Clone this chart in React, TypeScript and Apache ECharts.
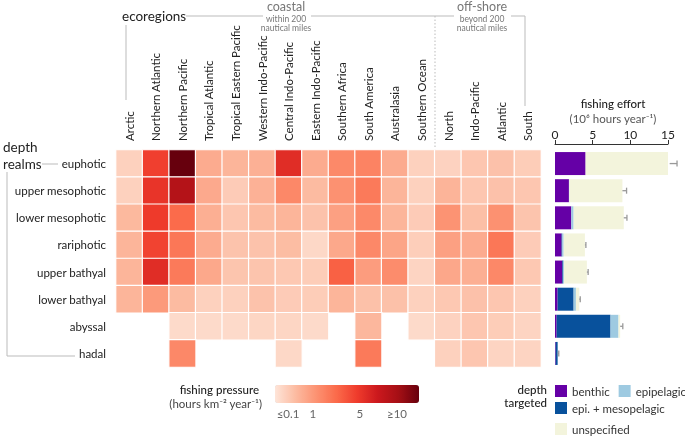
import React, { useEffect, useRef } from "react";
import * as echarts from "echarts";

const ecoregions = [
  "Arctic", "Northern Atlantic", "Northern Pacific", "Tropical Atlantic",
  "Tropical Eastern Pacific", "Western Indo-Pacific", "Central Indo-Pacific",
  "Eastern Indo-Pacific", "Southern Africa", "South America", "Australasia",
  "Southern Ocean", "North", "Indo-Pacific", "Atlantic", "South",
];
const depthRealms = [
  "euphotic", "upper mesophotic", "lower mesophotic", "rariphotic",
  "upper bathyal", "lower bathyal", "abyssal", "hadal",
];

// fishing pressure (hours km-2 year-1), null = no cell
const euphotic = [0.07, 4.5, 15, 0.57, 0.39, 0.47, 5.7, 0.57, 1.45, 1.65, 0.57, 0.07, 0.06, 0.16, 0.21, 0.1];
const upperMesophotic = [0.07, 5.2, 9.2, 0.6, 0.11, 0.45, 1.5, 0.3, 1.2, 2.0, 0.39, 0.07, 0.4, 0.16, 0.21, 0.16];
const lowerMesophotic = [0.33, 4.8, 2.6, 0.5, 0.16, 0.3, 0.39, 0.2, 0.81, 1.45, 0.39, 0.11, 1.15, 0.24, 1.2, 0.18];
const rariphotic = [0.39, 4.3, 2.1, 0.57, 0.19, 0.2, 0.27, 0.03, 0.63, 1.5, 0.7, 0.09, 0.81, 0.57, 2.1, 0.11];
const upperBathyal = [0.39, 5.7, 2.0, 0.63, 0.17, 0.18, 0.14, 0.1, 3.0, 0.9, 1.35, 0.05, 0.65, 0.5, 1.5, 0.14];
const lowerBathyal = [0.39, 0.96, 0.3, 0.07, 0.07, 0.2, 0.11, 0.1, 0.39, 0.22, 0.22, 0.07, 0.14, 0.21, 0.16, 0.07];
const abyssal = [null, null, 0.02, 0.02, 0.02, 0.04, 0.04, 0.02, null, 0.35, null, 0.02, 0.06, 0.16, 0.1, 0.05];
const hadal = [null, null, 1.5, null, null, null, 0.03, null, null, 2.0, null, null, 0.07, 0.16, 0.05, 0.05];
const pressureRows = [euphotic, upperMesophotic, lowerMesophotic, rariphotic, upperBathyal, lowerBathyal, abyssal, hadal];

const pressureTicks = ["≤0.1", "1", "5", "≥10"];
const pressureTickValues = [0.1, 1, 5, 10];
const pressureMax = 14.4;

// fishing effort (10^6 hours year-1)
const benthic = [4.06, 1.85, 2.16, 0.88, 0.97, 0.35, 0.22, 0.09];
const epiMeso = [0, 0, 0, 0.09, 0.13, 2.12, 7.15, 0.26];
const epipelagic = [0, 0.05, 0.31, 0.18, 0.09, 0.31, 1.06, 0];
const unspecified = [11.16, 7.05, 6.66, 2.82, 3.04, 0.44, 0.22, 0];
const effortUpper = [16.2, 9.5, 9.55, 4.1, 4.4, 3.35, 9.0, 0.5];

const FONT = 'Lato, "Open Sans", "Noto Sans", sans-serif';
const RAMP = ["#fee5d9", "#fcbba1", "#fc9272", "#fb6a4a", "#ef3b2c", "#cb181d", "#a50f15", "#67000d"];

function txt(text: string, x: number, y: number, o: any = {}) {
  const align = o.align || "left";
  const size = o.size || 11.5;
  return {
    type: "text", x, y, silent: true, rotation: o.rotation || 0,
    style: {
      text, fontSize: size, fill: o.color || "#222", fontFamily: FONT,
      fontWeight: o.weight || "normal", lineHeight: o.lh || Math.round(size * 1.05),
      textAlign: align, align, textVerticalAlign: "middle", verticalAlign: "middle",
    },
  };
}
function ln(x1: number, y1: number, x2: number, y2: number, dash?: number[], color = "#bbb") {
  return {
    type: "line", silent: true,
    shape: { x1, y1, x2, y2 },
    style: { stroke: color, lineWidth: 1, lineDash: dash || null },
  };
}

export default function App() {
  const ref = useRef<HTMLDivElement>(null);
  useEffect(() => {
    if (!ref.current) return;
    const chart = echarts.init(ref.current, null, { renderer: "svg" });

    const heatData: any[] = [];
    pressureRows.forEach((row, r) => {
      row.forEach((v, c) => {
        if (v !== null && v !== undefined) heatData.push([c, r, Math.sqrt(Math.min(v, pressureMax))]);
      });
    });
    const totals = depthRealms.map((_, i) => benthic[i] + epiMeso[i] + epipelagic[i] + unspecified[i]);
    const errData = depthRealms.map((_, i) => [i, totals[i], effortUpper[i]]);

    const legX0 = 275, legW = 144, legTop = 385, legH = 18;
    const sMax = Math.sqrt(pressureMax);
    const tickX = pressureTickValues.map((v) => legX0 + (Math.sqrt(v) / sMax) * legW);

    const graphic: any[] = [
      // header
      txt("ecoregions", 122, 16, { size: 13.5 }),
      ln(186, 16, 263, 16),
      ln(126, 25, 126, 100),
      txt("coastal", 286, 6.5, { size: 12.5, color: "#777", align: "center", lh: 12 }),
      txt("within 200", 286, 19, { size: 8.5, color: "#777", align: "center", lh: 9 }),
      txt("nautical miles", 286, 28, { size: 8.5, color: "#777", align: "center", lh: 9 }),
      ln(311, 16, 454, 16),
      ln(435, 16, 435, 150, [1.5, 2]),
      txt("off-shore", 482, 6.5, { size: 12.5, color: "#777", align: "center", lh: 12 }),
      txt("beyond 200", 482, 19, { size: 8.5, color: "#777", align: "center", lh: 9 }),
      txt("nautical miles", 482, 28, { size: 8.5, color: "#777", align: "center", lh: 9 }),
      ln(511, 16, 525, 16),
      ln(525, 16, 525, 106),
      // left
      txt("depth", 3, 147, { size: 13.5 }),
      txt("realms", 3, 164, { size: 13.5 }),
      ln(42, 164, 58, 164),
      ln(7, 172, 7, 356),
      ln(7, 356, 75, 356),
      // effort title
      txt("fishing effort", 613, 103, { size: 11.5, align: "center", weight: 500 }),
      txt("(10⁶ hours year⁻¹)", 613, 118, { size: 11.5, color: "#555", align: "center" }),
      // pressure legend
      txt("fishing pressure", 259, 389, { size: 11.5, align: "right", weight: 500 }),
      txt("(hours km⁻² year⁻¹)", 262, 403, { size: 11.5, color: "#444", align: "right" }),
      ...tickX.map((x) => ln(x, legTop + legH - 6, x, legTop + legH, undefined, "rgba(255,255,255,0.8)")),
      ...tickX.map((x, i) => txt(pressureTicks[i], x + (i === 0 ? 1 : i === 3 ? 2 : 0), 413, { size: 11.5, color: "#666", align: "center" })),
      // depth targeted
      txt("depth", 547, 389, { size: 11.5, align: "right", weight: 500 }),
      txt("targeted", 547, 402, { size: 11.5, align: "right", weight: 500 }),
    ];

    const legendBase = {
      orient: "horizontal", itemWidth: 12, itemHeight: 12, itemGap: 9, padding: 0,
      icon: "rect", selectedMode: false, width: 220,
      textStyle: { fontSize: 11.5, color: "#333", fontFamily: FONT },
    };

    const barBase = { type: "bar", stack: "effort", xAxisIndex: 1, yAxisIndex: 1, barWidth: 23 };

    chart.setOption({
      animation: false,
      textStyle: { fontFamily: FONT },
      grid: [
        { left: 116, top: 150, width: 425, height: 217 },
        { left: 555, top: 150, width: 113, height: 217 },
      ],
      xAxis: [
        {
          type: "category", gridIndex: 0, data: ecoregions, position: "top",
          axisLine: { show: false }, axisTick: { show: false }, splitLine: { show: false },
          axisLabel: { show: false },
        },
        {
          type: "value", gridIndex: 1, min: 0, max: 15, interval: 5, position: "top", offset: 6,
          axisLine: { show: true, lineStyle: { color: "#333" } },
          axisTick: { show: true, length: 4, lineStyle: { color: "#333" } },
          axisLabel: { fontSize: 12, color: "#222", margin: 4 },
          splitLine: { show: false },
        },
      ],
      yAxis: [
        {
          type: "category", gridIndex: 0, data: depthRealms, inverse: true,
          axisLine: { show: false }, axisTick: { show: false },
          axisLabel: { fontSize: 11.5, color: "#222", margin: 10 },
        },
        { type: "category", gridIndex: 1, data: depthRealms, inverse: true, show: false },
      ],
      visualMap: {
        type: "continuous", seriesIndex: 0, dimension: 2, min: 0, max: sMax,
        orient: "horizontal", left: legX0, top: legTop, itemWidth: legH, itemHeight: legW,
        calculable: false, padding: 0, hoverLink: false, text: null,
        inRange: { color: RAMP },
      },
      legend: [
        { ...legendBase, data: ["benthic", "epipelagic"], left: 555, top: 385 },
        { ...legendBase, data: ["epi. + mesopelagic"], left: 555, top: 402 },
        { ...legendBase, data: ["unspecified"], left: 555, top: 423 },
      ],
      series: [
        {
          type: "heatmap", xAxisIndex: 0, yAxisIndex: 0, data: heatData,
          itemStyle: { borderColor: "#fff", borderWidth: 1.2 },
          emphasis: { disabled: true },
        },
        { ...barBase, name: "benthic", data: benthic, itemStyle: { color: "#6500a6" } },
        { ...barBase, name: "epi. + mesopelagic", data: epiMeso, itemStyle: { color: "#08519c" } },
        { ...barBase, name: "epipelagic", data: epipelagic, itemStyle: { color: "#9ecae1" } },
        { ...barBase, name: "unspecified", data: unspecified, itemStyle: { color: "#f3f4dc" } },
        {
          type: "custom", xAxisIndex: 1, yAxisIndex: 1, data: errData, z: 10,
          encode: { x: [1, 2], y: 0 },
          renderItem: (_p: any, api: any) => {
            const yi = api.value(0);
            const a = api.coord([api.value(1), yi]);
            const b = api.coord([api.value(2), yi]);
            const st = { stroke: "#999", lineWidth: 1.3 };
            return {
              type: "group",
              children: [
                { type: "line", shape: { x1: a[0], y1: a[1], x2: b[0], y2: b[1] }, style: st },
                { type: "line", shape: { x1: b[0], y1: b[1] - 3, x2: b[0], y2: b[1] + 3 }, style: st },
              ],
            };
          },
        },
      ],
    });

    // column labels, placed at the category axis' own band centres
    const colLabels = ecoregions.map((name, i) => {
      const cx = chart.convertToPixel({ xAxisIndex: 0 }, i) as number;
      return txt(name, cx, 141, { size: 11.5, align: "left", rotation: Math.PI / 2 });
    });
    chart.setOption({ graphic: [...graphic, ...colLabels] });

    return () => chart.dispose();
  }, []);
  return <div ref={ref} style={{ position: "fixed", left: 0, top: 0, width: 685, height: 436 }} />;
}
